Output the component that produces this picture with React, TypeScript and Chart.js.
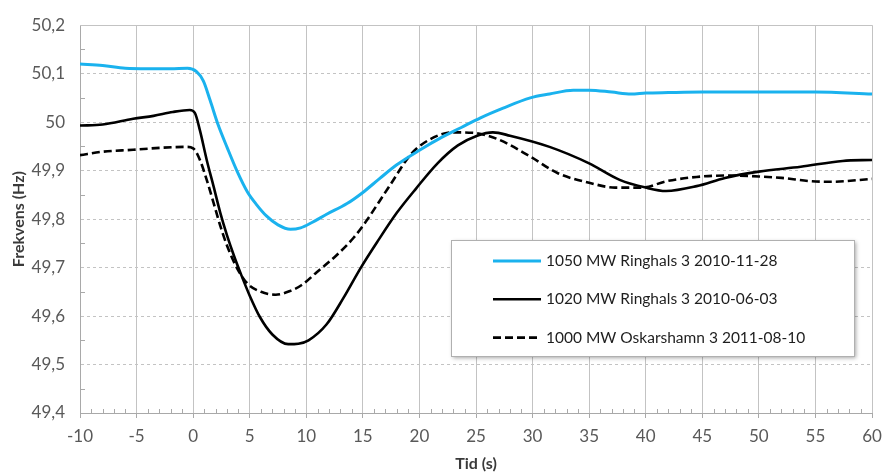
import { useEffect, useRef } from "react";
import { Chart, registerables } from "chart.js";

Chart.register(...registerables);

// Time axis (s)
const X_MIN = -10;
const X_MAX = 60;
const Y_MIN = 49.4;
const Y_MAX = 50.2;

const SERIES_LABELS = [
  "1050 MW Ringhals 3 2010-11-28",
  "1020 MW Ringhals 3 2010-06-03",
  "1000 MW Oskarshamn 3 2011-08-10",
];

// Series 1: 1050 MW Ringhals 3 2010-11-28 (blue)
const ringhalsNovT = [
  -10, -8, -6, -4, -2, -0.5, 0.3, 0.9, 1.5, 2.2, 3.0, 3.9, 4.8, 5.6, 6.5, 7.5, 8.6, 9.5, 10.5, 11.8,
  13.6, 15, 16.5, 18, 20, 22, 23.7, 25.4, 27.4, 29.8, 31.5, 33.6, 35, 37, 38.7, 40, 42, 45, 50, 55, 60,
];
const ringhalsNovF = [
  50.12, 50.117, 50.111, 50.11, 50.11, 50.111, 50.104, 50.085, 50.045, 49.995, 49.948, 49.898, 49.856,
  49.83, 49.806, 49.788, 49.779, 49.782, 49.793, 49.81, 49.832, 49.855, 49.884, 49.912, 49.942, 49.969,
  49.989, 50.009, 50.029, 50.05, 50.058, 50.066, 50.066, 50.062, 50.058, 50.06, 50.061, 50.062, 50.062,
  50.062, 50.058,
];

// Series 2: 1020 MW Ringhals 3 2010-06-03 (black solid)
const ringhalsJunT = [
  -10, -8, -5.3, -3.5, -1.8, -0.3, 0.15, 0.6, 1.2, 1.8, 2.4, 3.0, 3.6, 4.2, 5.0, 5.9, 7.0, 8.4, 9.3,
  10.2, 11.8, 13.3, 14.8, 16.3, 18, 19.7, 21.6, 23.4, 25.1, 26.5, 28, 31.5, 35, 37.7, 40, 41.8, 44.5, 47,
  50, 53.7, 57.4, 60,
];
const ringhalsJunF = [
  49.993, 49.995, 50.007, 50.013, 50.021, 50.025, 50.019, 49.983, 49.922, 49.868, 49.813, 49.766,
  49.725, 49.688, 49.642, 49.598, 49.562, 49.542, 49.543, 49.55, 49.583, 49.638, 49.699, 49.754, 49.813,
  49.863, 49.915, 49.952, 49.972, 49.979, 49.972, 49.949, 49.915, 49.881, 49.865, 49.858, 49.868,
  49.885, 49.898, 49.908, 49.92, 49.922,
];

// Series 3: 1000 MW Oskarshamn 3 2011-08-10 (black dashed)
const oskarshamnT = [
  -10, -8, -5.3, -2.9, -0.6, 0, 0.6, 1.2, 1.8, 2.4, 3.0, 3.9, 4.8, 6.0, 7.3, 8.6, 9.6, 10.9, 12.7, 14.2,
  15.3, 16.5, 17.4, 19.3, 21.3, 23, 24.7, 26.8, 29.8, 32.2, 35, 37.3, 39.7, 41.8, 44.5, 47.3, 50, 52,
  54.7, 56.4, 60,
];
const oskarshamnF = [
  49.932, 49.939, 49.943, 49.947, 49.949, 49.946, 49.922, 49.881, 49.834, 49.786, 49.745, 49.698,
  49.667, 49.65, 49.644, 49.652, 49.664, 49.69, 49.726, 49.762, 49.796, 49.838, 49.87, 49.935, 49.969,
  49.979, 49.978, 49.966, 49.929, 49.895, 49.875, 49.865, 49.865, 49.878, 49.887, 49.89, 49.888,
  49.885, 49.878, 49.877, 49.883,
];

const BLUE = "#1ab2ee";
const GRID = "#c3c3c3";
const AXIS = "#a9a9a9";
const TICK_COLOR = "#595959";
const FONT = "Lato, 'Open Sans', sans-serif";

const toPoints = (t: number[], f: number[]) => t.map((x, i) => ({ x, y: f[i] }));

const minorTicks = {
  id: "minorTicks",
  beforeDatasetsDraw(chart: any) {
    const { ctx, chartArea, scales } = chart;
    const xs = scales.x;
    const ys = scales.y;
    ctx.save();
    ctx.strokeStyle = AXIS;
    ctx.lineWidth = 1;
    ctx.beginPath();
    for (let v = X_MIN + 1; v < X_MAX; v++) {
      if (v % 5 === 0) continue;
      const px = Math.round(xs.getPixelForValue(v)) + 0.5;
      ctx.moveTo(px, chartArea.bottom);
      ctx.lineTo(px, chartArea.bottom - 4);
    }
    for (let k = 0; k < 8; k++) {
      const v = Y_MIN + 0.05 + k * 0.1;
      const py = Math.round(ys.getPixelForValue(v)) + 0.5;
      ctx.moveTo(chartArea.left, py);
      ctx.lineTo(chartArea.left + 5, py);
    }
    ctx.stroke();
    // top border, solid
    ctx.strokeStyle = GRID;
    ctx.beginPath();
    const top = Math.round(chartArea.top) + 0.5;
    ctx.moveTo(chartArea.left, top);
    ctx.lineTo(chartArea.right, top);
    ctx.stroke();
    ctx.restore();
  },
};

const boxLegend = {
  id: "boxLegend",
  afterDraw(chart: any) {
    const { ctx } = chart;
    const bx = 451;
    const by = 240;
    const bw = 403;
    const bh = 116;
    ctx.save();
    ctx.shadowColor = "rgba(0,0,0,0.35)";
    ctx.shadowBlur = 4;
    ctx.shadowOffsetX = 2;
    ctx.shadowOffsetY = 2;
    ctx.fillStyle = "#ffffff";
    ctx.fillRect(bx, by, bw, bh);
    ctx.shadowColor = "transparent";
    ctx.strokeStyle = "#b0b0b0";
    ctx.lineWidth = 1;
    ctx.strokeRect(bx + 0.5, by + 0.5, bw, bh);
    chart.data.datasets.forEach((ds: any, i: number) => {
      const y = by + 21 + i * 38.3;
      ctx.beginPath();
      ctx.strokeStyle = ds.borderColor;
      ctx.lineWidth = ds.borderWidth;
      ctx.setLineDash(ds.borderDash || []);
      ctx.moveTo(493, y);
      ctx.lineTo(541, y);
      ctx.stroke();
      ctx.setLineDash([]);
      ctx.fillStyle = "#1e1e1e";
      ctx.font = `15.5px ${FONT}`;
      ctx.textBaseline = "middle";
      ctx.textAlign = "left";
      ctx.fillText(ds.label, 546, y);
    });
    ctx.restore();
  },
};

export default function App() {
  const ref = useRef<HTMLCanvasElement | null>(null);

  useEffect(() => {
    if (!ref.current) return;
    const common = {
      pointRadius: 0,
      cubicInterpolationMode: "monotone" as const,
      fill: false,
    };
    const chart = new Chart(ref.current, {
      type: "line",
      data: {
        datasets: [
          {
            ...common,
            label: SERIES_LABELS[0],
            data: toPoints(ringhalsNovT, ringhalsNovF),
            borderColor: BLUE,
            borderWidth: 3,
          },
          {
            ...common,
            label: SERIES_LABELS[1],
            data: toPoints(ringhalsJunT, ringhalsJunF),
            borderColor: "#000000",
            borderWidth: 2.6,
          },
          {
            ...common,
            label: SERIES_LABELS[2],
            data: toPoints(oskarshamnT, oskarshamnF),
            borderColor: "#000000",
            borderWidth: 2.6,
            borderDash: [8, 4],
          },
        ],
      },
      options: {
        responsive: false,
        animation: false,
        events: [],
        layout: { padding: { top: 20, right: 12, left: 0, bottom: 0 } },
        plugins: {
          legend: { display: false },
          tooltip: { enabled: false },
        },
        scales: {
          x: {
            type: "linear",
            min: X_MIN,
            max: X_MAX,
            afterFit: (s: any) => {
              s.height = 59;
              s.paddingLeft = 0;
              s.paddingRight = 0;
            },
            ticks: {
              stepSize: 5,
              color: TICK_COLOR,
              font: { family: FONT, size: 17 },
              padding: 8,
              maxRotation: 0,
              callback: (v: any) => String(v),
            },
            grid: {
              color: GRID,
              lineWidth: 1,
              drawTicks: true,
              tickLength: 5,
              tickColor: AXIS,
            },
            border: { color: AXIS, width: 1 },
            title: {
              display: true,
              text: "Tid (s)",
              color: "#3a3a3a",
              font: { family: FONT, size: 16, weight: "bold" },
              padding: { top: 0, bottom: -1 },
            },
          },
          y: {
            type: "linear",
            min: Y_MIN,
            max: Y_MAX,
            afterFit: (s: any) => {
              s.width = 80;
            },
            ticks: {
              stepSize: 0.1,
              color: TICK_COLOR,
              font: { family: FONT, size: 17 },
              padding: 15,
              callback: (v: any) => String(Math.round(Number(v) * 10) / 10).replace(".", ","),
            },
            grid: {
              color: GRID,
              lineWidth: 1,
              drawTicks: false,
            },
            border: { color: AXIS, width: 1, dash: [3, 3] },
            title: {
              display: true,
              text: "Frekvens (Hz)",
              color: "#3a3a3a",
              font: { family: FONT, size: 16, weight: "bold" },
              padding: { top: 9, bottom: 0 },
            },
          },
        },
      },
      plugins: [minorTicks, boxLegend],
    });
    return () => chart.destroy();
  }, []);

  return (
    <div style={{ position: "absolute", left: 0, top: 0, width: 884, height: 472, background: "#fff" }}>
      <canvas ref={ref} width={884} height={472} style={{ display: "block" }} />
    </div>
  );
}
